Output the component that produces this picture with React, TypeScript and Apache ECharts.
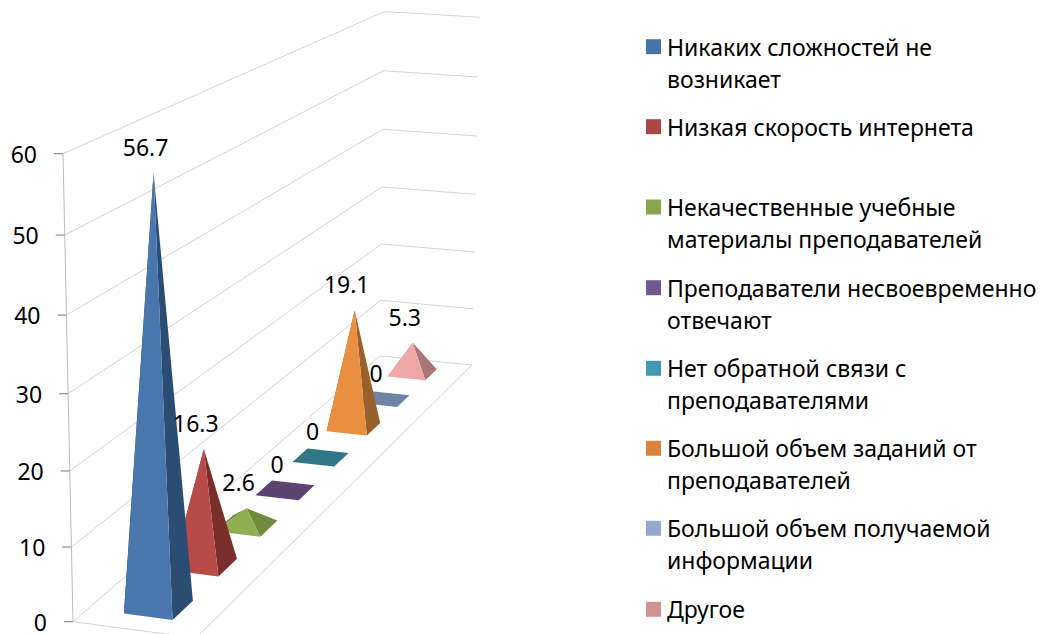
import React, { useEffect, useRef } from "react";
import * as echarts from "echarts";

const categories = [
  "Никаких сложностей не возникает",
  "Низкая скорость интернета",
  "Некачественные учебные материалы преподавателей",
  "Преподаватели несвоевременно отвечают",
  "Нет обратной связи с преподавателями",
  "Большой объем заданий от преподавателей",
  "Большой объем получаемой информации",
  "Другое",
];
const values = [56.7, 16.3, 2.6, 0, 0, 19.1, 0, 5.3];
const tickValues = [0, 10, 20, 30, 40, 50, 60];
const legendLabels = [
  "Никаких сложностей не\nвозникает",
  "Низкая скорость интернета",
  "Некачественные учебные\nматериалы преподавателей",
  "Преподаватели несвоевременно\nотвечают",
  "Нет обратной связи с\nпреподавателями",
  "Большой объем заданий от\nпреподавателей",
  "Большой объем получаемой\nинформации",
  "Другое",
];
const legendColors = ["#4675aa", "#aa4644", "#89a54e", "#71588f", "#4198af", "#db843d", "#93a9cf", "#d19392"];
const frontColors = ["#4a76ae", "#b84a48", "#8fae4f", "#5b4470", "#2f7787", "#ea8f40", "#6f84a5", "#f0a7a8"];
const sideColors = ["#2c4d73", "#7a2e2c", "#6e8b3d", "#5b4470", "#2f7787", "#98602a", "#6f84a5", "#a97576"];

const FONT = '"Noto Sans", sans-serif';

// Projective camera: floor (u: depth, v: across) and height t, all in 0..1
const project = (u: number, v: number, t: number): number[] => {
  const w = 0.3796 * u - 0.01422 * v - 0.05 * t + 1;
  return [
    (451.2 * u + 120.2 * v - 13.15 * t + 73) / w,
    (-130.6 * u + 7.23 * v - 475.7 * t + 621.7) / w,
  ];
};

// Turn the library's scale output into unit coordinates
const unit = (api: any, cat: number, val: number) => {
  const band = api.size([1, 0])[0];
  const left = api.coord([0, 0])[0] - band / 2;
  const y0 = api.coord([0, 0])[1];
  const y60 = api.coord([0, tickValues[tickValues.length - 1]])[1];
  const c = api.coord([cat, val]);
  return { u: (c[0] - left) / (band * categories.length), t: (y0 - c[1]) / (y0 - y60), band: 1 / categories.length };
};

const HALF_U = 0.216; // of a category band
const HALF_V = 0.2;

const pyramidItem = (i: number) => (_p: any, api: any) => {
  const cat = api.value(0);
  const val = api.value(1);
  const { u, t, band } = unit(api, cat, val);
  const du = HALF_U * band;
  const FL = project(u - du, 0.5 - HALF_V, 0);
  const FR = project(u - du, 0.5 + HALF_V, 0);
  const BR = project(u + du, 0.5 + HALF_V, 0);
  const BL = project(u + du, 0.5 - HALF_V, 0);
  const apex = project(u, 0.5, t);
  if (val === 0) {
    return { type: "polygon", shape: { points: [FL, FR, BR, BL] }, style: { fill: frontColors[i] } };
  }
  return {
    type: "group",
    children: [
      { type: "polygon", shape: { points: [BL, FL, apex] }, style: { fill: sideColors[i] } },
      { type: "polygon", shape: { points: [FR, BR, apex] }, style: { fill: sideColors[i] } },
      { type: "polygon", shape: { points: [FL, FR, apex] }, style: { fill: frontColors[i] } },
    ],
  };
};

const wallItem = (_p: any, api: any) => {
  const val = api.value(1);
  const { t } = unit(api, 0, val);
  const a = project(0, 0, t);
  const b = project(1, 0, t);
  const c = project(1, 1, t);
  const children: any[] = [
    {
      type: "polyline",
      shape: { points: [a, b, c] },
      style: { stroke: "#d4d4d4", lineWidth: 1, fill: "none" },
    },
    {
      type: "line",
      shape: { x1: a[0] - 9, y1: a[1], x2: a[0], y2: a[1] },
      style: { stroke: "#8c8c8c", lineWidth: 1.2 },
    },
    {
      type: "text",
      style: {
        text: String(val),
        x: a[0] - 26,
        y: a[1],
        align: "right",
        verticalAlign: "middle",
        font: `23px ${FONT}`,
        fill: "#000",
      },
    },
  ];
  if (val === 0) {
    const top = project(0, 0, 1);
    const d = project(0, 1, 0);
    children.push(
      { type: "line", shape: { x1: a[0], y1: a[1], x2: top[0], y2: top[1] }, style: { stroke: "#bdbdbd", lineWidth: 1 } },
      { type: "polyline", shape: { points: [a, d, c] }, style: { stroke: "#d4d4d4", lineWidth: 1, fill: "none" } }
    );
  }
  return { type: "group", children };
};

const labelItem = (_p: any, api: any) => {
  const cat = api.value(0);
  const val = api.value(1);
  const { u, t } = unit(api, cat, val);
  const apex = project(u, 0.5, t);
  return {
    type: "text",
    style: {
      text: String(val),
      x: apex[0] - 8,
      y: apex[1] - 26,
      align: "center",
      verticalAlign: "middle",
      font: `23px ${FONT}`,
      fill: "#000",
    },
  };
};

const legendFirstLineY = [46.7, 126.7, 207, 287.7, 368.3, 448.3, 528.3, 609.3];

export default function App() {
  const ref = useRef<HTMLDivElement>(null);
  useEffect(() => {
    document.body.style.margin = "0";
    const chart = echarts.init(ref.current!, undefined, { renderer: "svg" });
    const pyramids = categories.map((name, i) => ({
      type: "custom",
      name,
      z: 3 + categories.length - i,
      coordinateSystem: "cartesian2d",
      renderItem: pyramidItem(i),
      encode: { x: 0, y: 1 },
      data: [[i, values[i]]],
    }));
    chart.setOption({
      animation: false,
      backgroundColor: "#ffffff",
      grid: { left: 100, right: 100, top: 100, bottom: 100 },
      xAxis: { type: "category", data: categories, show: false },
      yAxis: { type: "value", min: 0, max: 60, interval: 10, show: false },
      series: [
        {
          type: "custom",
          name: "axis",
          z: 1,
          renderItem: wallItem,
          encode: { x: 0, y: 1 },
          data: tickValues.map((v) => [0, v]),
        },
        ...pyramids,
        {
          type: "custom",
          name: "labels",
          z: 30,
          renderItem: labelItem,
          encode: { x: 0, y: 1 },
          data: values.map((v, i) => [i, v]),
        },
      ],
      graphic: legendLabels.flatMap((text, i) => [
        {
          type: "rect",
          shape: { x: 646, y: legendFirstLineY[i] - 7.5, width: 15, height: 15 },
          style: { fill: legendColors[i] },
        },
        {
          type: "text",
          x: 667,
          y: legendFirstLineY[i] - 16,
          style: { text, font: `23px ${FONT}`, lineHeight: 32, fill: "#000" },
        },
      ]),
    });
    return () => chart.dispose();
  }, []);
  return <div ref={ref} style={{ width: 1045, height: 634 }} />;
}
